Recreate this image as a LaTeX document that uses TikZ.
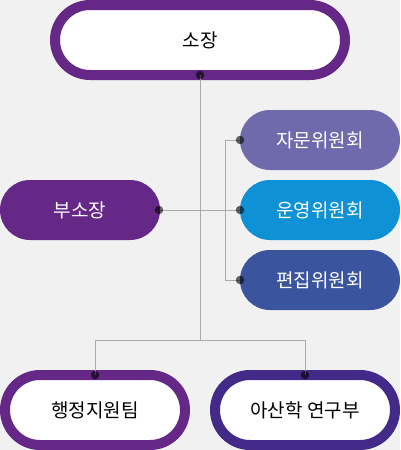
\documentclass[tikz,border=0pt]{standalone}
\usepackage{fontspec}
\newfontfamily\kr{Noto Sans CJK KR}
\definecolor{bg}{HTML}{F1F1F1}
\definecolor{purp}{HTML}{652887}
\definecolor{indigo}{HTML}{432A88}
\definecolor{jamun}{HTML}{6E6AAB}
\definecolor{unyeong}{HTML}{0F91D6}
\definecolor{pyeon}{HTML}{3A559D}
\definecolor{conn}{HTML}{AAAAAA}
\tikzset{
  box/.style={rectangle, inner sep=0pt, outer sep=0pt, font=\kr\fontsize{19}{22}\selectfont},
  ringbox/.style={box, fill=white, line width=10pt, text=black},
  solidbox/.style={box, minimum width=160pt, minimum height=60pt, rounded corners=30pt, text=white},
  dot/.style={circle, fill=black, fill opacity=0.6, inner sep=0pt, minimum size=8.5pt},
  link/.style={draw=conn, line width=1pt}
}
\begin{document}
\begin{tikzpicture}[x=1pt,y=-1pt]
\fill[bg] (0,0) rectangle (400,450);
\useasboundingbox (0,0) rectangle (400,450);
% boxes
\node[ringbox, draw=purp, minimum width=290pt, minimum height=70pt, rounded corners=35pt] (top) at (200,40) {소장};
\node[solidbox, fill=purp] (bu) at (80,210) {부소장};
\node[solidbox, fill=jamun] (ja) at (320,140) {자문위원회};
\node[solidbox, fill=unyeong] (un) at (320,210) {운영위원회};
\node[solidbox, fill=pyeon] (py) at (320,280) {편집위원회};
\node[ringbox, draw=purp, minimum width=180pt, minimum height=70pt, rounded corners=35pt] (hj) at (95,410) {행정지원팀};
\node[ringbox, draw=indigo, minimum width=180pt, minimum height=70pt, rounded corners=35pt] (as) at (305,410) {아산학 연구부};
% junctions
\coordinate (j) at (200,340);
\coordinate (k) at (225,210);
% connectors
\draw[link] (top.south) -- (j) -| (hj.north);
\draw[link] (j) -| (as.north);
\draw[link] (bu.east) -- (un.west);
\draw[link] (ja.west) -- (ja.west -| k) -- (py.west -| k) -- (py.west);
% dots
\node[dot] (d0) at (top.south) {};
\node[dot] (d1) at ([xshift=-1pt]bu.east) {};
\node[dot] (d2) at (ja.west) {};
\node[dot] (d3) at (un.west) {};
\node[dot] (d4) at (py.west) {};
\node[dot] (d5) at (hj.north) {};
\node[dot] (d6) at (as.north) {};
\end{tikzpicture}
\end{document}
